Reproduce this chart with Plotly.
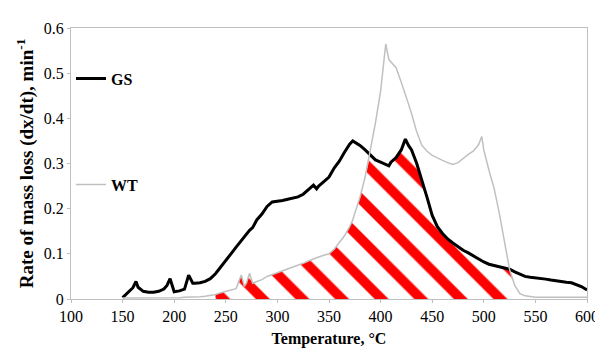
import numpy as np
import plotly.graph_objects as go

temperature = [150, 155, 160, 163, 165, 170, 175, 180, 185, 190, 193, 196, 200, 205, 210, 214, 218, 220,
               225, 230, 235, 240, 245, 250, 255, 260, 265, 268, 270, 273, 276, 280, 285, 290, 295, 300,
               305, 310, 315, 320, 325, 330, 335, 338, 340, 345, 350, 355, 360, 365, 370, 373, 375, 380,
               385, 390, 395, 400, 405, 408, 410, 415, 420, 424, 427, 430, 435, 440, 445, 450, 455, 460,
               465, 470, 475, 480, 485, 490, 495, 498, 500, 505, 510, 515, 520, 525, 530, 535, 540, 545,
               550, 555, 560, 565, 570, 575, 580, 585, 590, 595, 600]

gs = [0.003, 0.015, 0.025, 0.039, 0.026, 0.017, 0.015, 0.015, 0.017, 0.022, 0.030, 0.045, 0.016, 0.018, 0.022, 0.053, 0.035, 0.035,
      0.036, 0.039, 0.045, 0.056, 0.070, 0.085, 0.100, 0.115, 0.130, 0.138, 0.143, 0.152, 0.158, 0.175, 0.188, 0.205, 0.215, 0.216,
      0.218, 0.221, 0.224, 0.226, 0.232, 0.242, 0.252, 0.244, 0.250, 0.260, 0.270, 0.290, 0.305, 0.325, 0.343, 0.350, 0.347, 0.340,
      0.330, 0.318, 0.308, 0.303, 0.298, 0.295, 0.303, 0.313, 0.330, 0.354, 0.340, 0.330, 0.300, 0.265, 0.225, 0.185, 0.160, 0.145,
      0.133, 0.124, 0.116, 0.108, 0.102, 0.095, 0.088, 0.085, 0.082, 0.077, 0.074, 0.071, 0.069, 0.066, 0.060, 0.055, 0.050, 0.048,
      0.047, 0.045, 0.044, 0.042, 0.040, 0.039, 0.037, 0.036, 0.032, 0.027, 0.020]

wt = [0.002, 0.002, 0.002, 0.002, 0.002, 0.002, 0.002, 0.002, 0.002, 0.003, 0.003, 0.003, 0.003, 0.003, 0.004, 0.004, 0.004, 0.005,
      0.005, 0.006, 0.008, 0.010, 0.014, 0.017, 0.020, 0.023, 0.053, 0.028, 0.035, 0.057, 0.035, 0.038, 0.043, 0.050, 0.054, 0.058,
      0.062, 0.066, 0.071, 0.075, 0.079, 0.084, 0.089, 0.091, 0.093, 0.097, 0.100, 0.110, 0.125, 0.140, 0.160, 0.175, 0.190, 0.225,
      0.270, 0.330, 0.390, 0.460, 0.565, 0.530, 0.525, 0.512, 0.480, 0.455, 0.432, 0.410, 0.370, 0.340, 0.327, 0.318, 0.312, 0.307,
      0.302, 0.298, 0.302, 0.312, 0.320, 0.328, 0.342, 0.360, 0.330, 0.285, 0.245, 0.190, 0.125, 0.065, 0.030, 0.012, 0.007, 0.005,
      0.004, 0.004, 0.004, 0.004, 0.004, 0.004, 0.004, 0.004, 0.004, 0.004, 0.004]

x_ticks = [100, 150, 200, 250, 300, 350, 400, 450, 500, 550, 600]
y_ticks = [0, 0.1, 0.2, 0.3, 0.4, 0.5, 0.6]

# overlapping area of the two curves (hatched), only where it is visible
overlap = np.minimum(np.array(gs), np.array(wt))
idx = np.where(overlap >= 0.01)[0]
ov_x = [temperature[i] for i in range(idx[0], idx[-1] + 1)]
ov_y = overlap[idx[0]:idx[-1] + 1]

FONT = "Liberation Serif"

fig = go.Figure()
fig.add_trace(go.Scatter(
    x=ov_x, y=ov_y, mode="none", fill="tozeroy",
    fillcolor="rgba(0,0,0,0)",
    fillpattern=dict(shape="\\", fgcolor="#ff0000", fgopacity=1, bgcolor="rgba(0,0,0,0)", size=28, solidity=0.35),
    showlegend=False, hoverinfo="skip"))
fig.add_trace(go.Scatter(x=temperature, y=gs, mode="lines", name="<b>GS</b>",
                         line=dict(color="#000000", width=3), legend="legend"))
fig.add_trace(go.Scatter(x=temperature, y=wt, mode="lines", name="<b>WT</b>",
                         line=dict(color="#c0c0c0", width=1.5), legend="legend2"))

axis_common = dict(showgrid=False, zeroline=False, showline=True, linecolor="#bfbfbf", linewidth=1,
                   mirror=True, ticks="outside", tickcolor="#bfbfbf", ticklen=3,
                   tickfont=dict(family=FONT, size=16, color="#000000"))

fig.update_layout(
    width=603, height=351,
    margin=dict(l=63, r=14, t=18, b=60),
    paper_bgcolor="white", plot_bgcolor="white",
    font=dict(family=FONT, color="#000000"),
    xaxis=dict(range=[100, 600], tickvals=x_ticks, ticktext=[str(v) for v in x_ticks],
               title=dict(text="<b>Temperature, °C</b>", font=dict(family=FONT, size=16), standoff=8),
               **axis_common),
    yaxis=dict(range=[0, 0.6], tickvals=y_ticks, ticktext=["0", "0.1", "0.2", "0.3", "0.4", "0.5", "0.6"],
               title=dict(text="<b>Rate of mass loss (dx/dt), min<sup>-1</sup></b>", font=dict(family=FONT, size=19), standoff=5),
               **axis_common),
    legend=dict(x=0.0, y=0.813, xanchor="left", yanchor="middle", bgcolor="rgba(0,0,0,0)",
                font=dict(family=FONT, size=16), itemwidth=30),
    legend2=dict(x=0.0, y=0.422, xanchor="left", yanchor="middle", bgcolor="rgba(0,0,0,0)",
                 font=dict(family=FONT, size=16), itemwidth=30),
)

fig.write_html("out.html")
